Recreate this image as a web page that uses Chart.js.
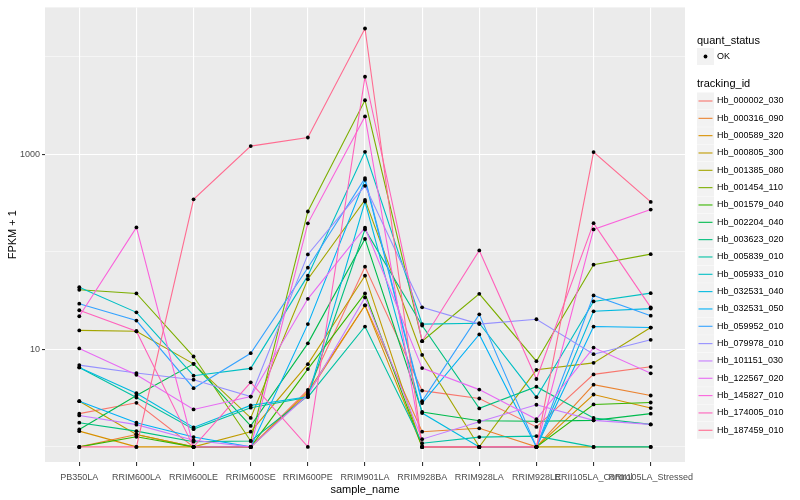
<!DOCTYPE html>
<html>
<head>
<meta charset="utf-8">
<script src="https://cdn.jsdelivr.net/npm/chart.js@4.4.0/dist/chart.umd.min.js"></script>
<style>
  body { margin: 0; background: #fff; }
</style>
</head>
<body>
<canvas id="fpkmChart" width="800" height="500"></canvas>
<script>
let sampleNames = ['PB350LA', 'RRIM600LA', 'RRIM600LE', 'RRIM600SE', 'RRIM600PE', 'RRIM901LA',
    'RRIM928BA', 'RRIM928LA', 'RRIM928LE', 'RRII105LA_Control', 'RRII105LA_Stressed'];

let trackingIds = ['Hb_000002_030', 'Hb_000316_090', 'Hb_000589_320', 'Hb_000805_300', 'Hb_001385_080',
    'Hb_001454_110', 'Hb_001579_040', 'Hb_002204_040', 'Hb_003623_020', 'Hb_005839_010',
    'Hb_005933_010', 'Hb_032531_040', 'Hb_032531_050', 'Hb_059952_010', 'Hb_079978_010',
    'Hb_101151_030', 'Hb_122567_020', 'Hb_145827_010', 'Hb_174005_010', 'Hb_187459_010'];

let seriesColors = ['#F8766D', '#EA8331', '#D89000', '#C09B00', '#A3A500', '#7CAE00', '#39B600', '#00BB4E',
    '#00BF7D', '#00C1A3', '#00BFC4', '#00BAE0', '#00B0F6', '#35A2FF', '#9590FF', '#C77CFF',
    '#E76BF3', '#FA62DB', '#FF62BC', '#FF6C91'];

// FPKM + 1, one value per sample
let hb_000002_030 = [2.19, 2.83, 1, 1, 3.83, 70.1, 3.77, 3.13, 1.6, 5.53, 6.61];
let hb_000316_090 = [1, 1.34, 1, 1, 3.49, 28.2, 1.43, 1.55, 1, 4.34, 3.36];
let hb_000589_320 = [1.45, 1, 1, 1, 3.66, 28.2, 1, 1, 1, 3.44, 2.5];
let hb_000805_300 = [2.94, 1.34, 1, 1.43, 7.04, 56.8, 1, 1, 1, 1, 1];
let hb_001385_080 = [15.6, 15.3, 7.09, 1.98, 52.2, 339, 8.75, 1, 6.16, 7.26, 16.7];
let hb_001454_110 = [40.7, 37.3, 8.43, 1.15, 258, 3558, 12.1, 37, 7.55, 73.5, 94.3];
let hb_001579_040 = [1, 1.27, 1, 1, 6.27, 37.3, 1, 1, 1, 2.72, 2.85];
let hb_002204_040 = [1.51, 3.36, 7.09, 1.64, 11.5, 135, 2.28, 1.85, 1.83, 1.87, 2.19];
let hb_003623_020 = [1.77, 1.45, 1.13, 1.15, 3.33, 169, 17.5, 2.48, 4.14, 1.98, 1.7];
let hb_005839_010 = [6.52, 3.2, 1.52, 2.52, 3.23, 17.1, 1.09, 1.26, 1.29, 1, 1];
let hb_005933_010 = [43.3, 23.9, 5.36, 6.37, 56.8, 1055, 18.1, 18.5, 3.23, 30.9, 37.6];
let hb_032531_040 = [6.52, 3.55, 1.58, 2.66, 3.26, 326, 2.22, 1, 1, 24.5, 26.1];
let hb_032531_050 = [2.94, 1.77, 1.26, 1, 18.1, 545, 2.81, 14.2, 1, 17.1, 16.7];
let hb_059952_010 = [29.3, 19.7, 3.99, 9.11, 68.5, 567, 2.94, 22.8, 1, 35.6, 22.1];
let hb_079978_010 = [6.88, 5.71, 4.88, 3.28, 93.7, 473, 26.9, 18.1, 20.3, 8.9, 12.5];
let hb_101151_030 = [2.1, 1.69, 1.17, 1, 3.41, 34, 1.2, 1.81, 2.7, 1.87, 1.7];
let hb_122567_020 = [10.2, 5.48, 2.42, 3.28, 32.9, 176, 6.41, 3.86, 1.92, 10.4, 5.67];
let hb_145827_010 = [21.8, 177, 1, 1, 195, 2431, 1, 1, 1, 169, 270];
let hb_174005_010 = [25.1, 15.3, 1, 4.59, 1, 6193, 12.1, 103, 4.96, 196, 26.9];
let hb_187459_010 = [1, 1, 344, 1206, 1477, 19335, 1, 1, 1, 1048, 323];

let seriesValues = [hb_000002_030, hb_000316_090, hb_000589_320, hb_000805_300, hb_001385_080,
    hb_001454_110, hb_001579_040, hb_002204_040, hb_003623_020, hb_005839_010,
    hb_005933_010, hb_032531_040, hb_032531_050, hb_059952_010, hb_079978_010,
    hb_101151_030, hb_122567_020, hb_145827_010, hb_174005_010, hb_187459_010];

let yTickValues = [1, 10, 100, 1000, 10000];
let yTickLabels = ['', '10', '', '1000', ''];

let fontFamily = '"Liberation Sans", Arial, sans-serif';
Chart.defaults.font.family = fontFamily;

function isMajorY(c) {
    if (!c.tick) return false;
    return yTickLabels[yTickValues.indexOf(c.tick.value)] !== '';
}

// grey ggplot panel behind the grid
let panelBg = {
    id: 'panelBg',
    beforeDraw(chart) {
        let a = chart.chartArea;
        let c = chart.ctx;
        c.save();
        c.fillStyle = '#EBEBEB';
        c.fillRect(a.left, a.top, a.right - a.left, a.bottom - a.top);
        c.restore();
    }
};

// two-part legend like ggplot's
let ggLegend = {
    id: 'ggLegend',
    afterDraw(chart) {
        let c = chart.ctx;
        c.save();
        c.textBaseline = 'middle';
        c.textAlign = 'left';
        c.fillStyle = '#000';
        c.font = '11px ' + fontFamily;
        c.fillText('quant_status', 697, 41);
        c.fillStyle = '#F2F2F2';
        c.fillRect(697, 48, 17, 17);
        c.fillStyle = '#000';
        c.beginPath();
        c.arc(705.5, 56.5, 1.9, 0, Math.PI * 2);
        c.fill();
        c.font = '9px ' + fontFamily;
        c.fillText('OK', 717, 56.5);

        c.font = '11px ' + fontFamily;
        c.fillText('tracking_id', 697, 84);
        trackingIds.forEach((id, i) => {
            let y = 92.5 + i * 17.33;
            c.fillStyle = '#F2F2F2';
            c.fillRect(697, y, 17, 17);
            c.strokeStyle = seriesColors[i];
            c.lineWidth = 1.1;
            c.beginPath();
            c.moveTo(698.5, y + 8.5);
            c.lineTo(712.5, y + 8.5);
            c.stroke();
            c.fillStyle = '#000';
            c.font = '9px ' + fontFamily;
            c.fillText(id, 717, y + 8.5);
        });
        c.restore();
    }
};

let lineSets = seriesValues.map((vals, i) => ({
    label: trackingIds[i],
    data: vals.map((v, j) => ({ x: j, y: v })),
    borderColor: seriesColors[i],
    backgroundColor: seriesColors[i],
    borderWidth: 1.1,
    pointRadius: 0,
    fill: false,
    tension: 0,
    order: seriesValues.length - i
}));

let pointSet = {
    label: 'OK',
    type: 'scatter',
    data: seriesValues.flatMap(vals => vals.map((v, j) => ({ x: j, y: v }))),
    backgroundColor: '#000',
    borderColor: '#000',
    pointRadius: 1.9,
    borderWidth: 0,
    order: 0
};

let ctx = document.getElementById('fpkmChart').getContext('2d');
let chart = new Chart(ctx, {
    type: 'line',
    data: { datasets: lineSets.concat([pointSet]) },
    options: {
        responsive: false,
        animation: false,
        layout: { padding: { top: 5, right: 115, left: 0, bottom: 0 } },
        plugins: {
            legend: { display: false },
            tooltip: { enabled: false }
        },
        scales: {
            x: {
                type: 'linear',
                min: -0.6,
                max: 10.6,
                afterBuildTicks: s => { s.ticks = sampleNames.map((n, i) => ({ value: i })); },
                afterFit: s => { s.height = 38; },
                ticks: {
                    autoSkip: false,
                    maxRotation: 0,
                    minRotation: 0,
                    padding: 6,
                    color: '#4D4D4D',
                    font: { size: 9 },
                    callback: v => sampleNames[v]
                },
                grid: { color: '#FFFFFF', lineWidth: 1.1, tickLength: 4, tickColor: '#333333' },
                border: { display: false },
                title: {
                    display: true,
                    text: 'sample_name',
                    color: '#000',
                    font: { size: 11 },
                    padding: { top: 0, bottom: 3 }
                }
            },
            y: {
                type: 'logarithmic',
                min: 0.73,
                max: 31800,
                afterBuildTicks: s => { s.ticks = yTickValues.map(v => ({ value: v })); },
                afterFit: s => { s.width = 45; },
                ticks: {
                    autoSkip: false,
                    padding: 2,
                    color: '#4D4D4D',
                    font: { size: 9 },
                    callback: v => yTickLabels[yTickValues.indexOf(v)] || ''
                },
                grid: {
                    color: '#FFFFFF',
                    lineWidth: c => isMajorY(c) ? 1.1 : 0.5,
                    tickLength: 3,
                    tickColor: c => isMajorY(c) ? '#333333' : 'rgba(0,0,0,0)'
                },
                border: { display: false },
                title: {
                    display: true,
                    text: 'FPKM + 1',
                    color: '#000',
                    font: { size: 11 },
                    padding: { top: 6, bottom: 0 }
                }
            }
        }
    },
    plugins: [panelBg, ggLegend]
});
</script>
</body>
</html>
